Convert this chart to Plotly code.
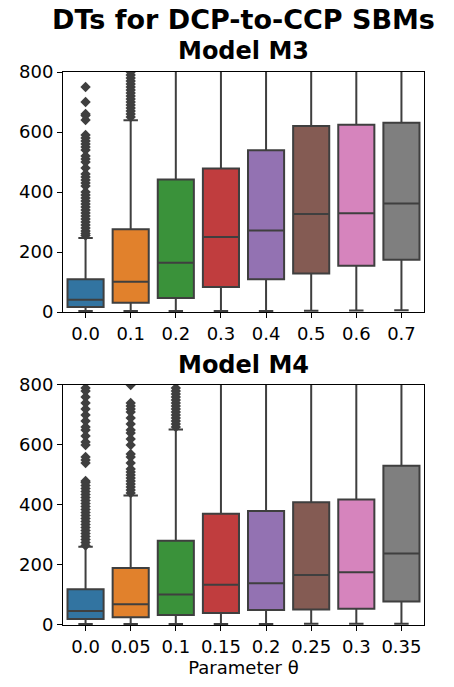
import plotly.graph_objects as go

# ---- data ----
m3_cats = ["0.0", "0.1", "0.2", "0.3", "0.4", "0.5", "0.6", "0.7"]
m3_q1 = [17, 31, 47, 83, 109, 128, 154, 174]
m3_med = [41, 101, 164, 250, 272, 327, 329, 362]
m3_q3 = [109, 276, 442, 478, 539, 620, 624, 631]
m3_lo = [3, 3, 3, 3, 3, 4, 5, 6]
m3_hi = [247, 639, 1100, 1150, 1200, 1300, 1300, 1350]
m3_out = {
    "0.0": [255, 262, 270, 280, 290, 300, 310, 320, 330, 340, 350, 360, 370, 380,
            390, 400, 420, 430, 440, 450, 460, 480, 500, 510, 520, 540, 550, 560,
            570, 580, 590, 640, 655, 660, 700, 750],
    "0.1": [650, 660, 670, 680, 690, 700, 710, 720, 730, 740, 750, 760, 770, 780,
            790, 800],
}

m4_cats = ["0.0", "0.05", "0.1", "0.15", "0.2", "0.25", "0.3", "0.35"]
m4_q1 = [20, 26, 33, 40, 50, 52, 54, 78]
m4_med = [47, 69, 102, 134, 139, 167, 176, 238]
m4_q3 = [119, 190, 281, 371, 380, 409, 418, 531]
m4_lo = [3, 3, 3, 3, 3, 4, 4, 4]
m4_hi = [261, 432, 652, 1000, 1050, 1100, 1150, 1250]
m4_out = {
    "0.0": [265, 275, 285, 295, 305, 315, 325, 335, 345, 355, 365, 375, 385, 395,
            405, 415, 425, 435, 445, 455, 465, 475, 480, 540, 550, 560, 600, 610,
            630, 650, 660, 680, 700, 720, 740, 760, 780, 790],
    "0.05": [440, 450, 460, 470, 480, 490, 500, 510, 520, 540, 560, 570, 600, 620,
             640, 650, 670, 690, 710, 720, 730, 740, 800],
    "0.1": [660, 670, 680, 690, 700, 710, 720, 730, 740, 750, 760, 770, 780, 790],
}

colors = ["#3274a1", "#e1812c", "#3a923a", "#c03d3e", "#9372b2", "#845b53",
          "#d684bd", "#7f7f7f"]
LINE = "#3f3f3f"
FONT = "DejaVu Sans"

fig = go.Figure()

def add_panel(cats, q1, med, q3, lo, hi, outs, xa, ya):
    for i, c in enumerate(cats):
        fig.add_trace(go.Box(
            x=[c], q1=[q1[i]], median=[med[i]], q3=[q3[i]],
            lowerfence=[lo[i]], upperfence=[hi[i]],
            fillcolor=colors[i], line=dict(color=LINE, width=2),
            width=0.8, whiskerwidth=0.4, boxpoints=False,
            xaxis=xa, yaxis=ya, showlegend=False, hoverinfo="skip"))
    for c, vals in outs.items():
        fig.add_trace(go.Scatter(
            x=[c] * len(vals), y=vals, mode="markers",
            marker=dict(symbol="diamond", size=8, color=LINE),
            xaxis=xa, yaxis=ya, showlegend=False, hoverinfo="skip", cliponaxis=True))

add_panel(m3_cats, m3_q1, m3_med, m3_q3, m3_lo, m3_hi, m3_out, "x", "y")
add_panel(m4_cats, m4_q1, m4_med, m4_q3, m4_lo, m4_hi, m4_out, "x2", "y2")

axis_common = dict(showline=True, linecolor="black", linewidth=1, mirror=True,
                   ticks="outside", ticklen=5, tickcolor="black", showgrid=False,
                   zeroline=False, tickfont=dict(family=FONT, size=18, color="black"))

fig.update_layout(
    width=454, height=687,
    margin=dict(l=63, r=30, t=72, b=62),
    plot_bgcolor="white", paper_bgcolor="white",
    boxmode="overlay",
    font=dict(family=FONT, color="black"),
    xaxis=dict(domain=[0, 1], anchor="y", type="category",
               categoryorder="array", categoryarray=m3_cats,
               range=[-0.5, 7.5], **axis_common),
    yaxis=dict(domain=[0.566, 1], anchor="x", range=[0, 800],
               tickvals=[0, 200, 400, 600, 800], **axis_common),
    xaxis2=dict(domain=[0, 1], anchor="y2", type="category",
                categoryorder="array", categoryarray=m4_cats,
                range=[-0.5, 7.5],
                title=dict(text="Parameter θ", font=dict(family=FONT, size=18),
                           standoff=4),
                **axis_common),
    yaxis2=dict(domain=[0, 0.434], anchor="x2", range=[0, 800],
                tickvals=[0, 200, 400, 600, 800], **axis_common),
)

# convert title positions in pixels to paper coords
plot_h = 687 - 72 - 62
def py(pix):
    return (625 - pix) / plot_h

for txt, ypix, size in [("<b>DTs for DCP-to-CCP SBMs</b>", 19, 27),
                        ("<b>Model M3</b>", 51, 24),
                        ("<b>Model M4</b>", 365, 24)]:
    fig.add_annotation(text=txt, x=0.5, y=py(ypix), xref="paper", yref="paper",
                       showarrow=False, xanchor="center", yanchor="middle",
                       font=dict(family=FONT, size=size, color="black"))

fig.write_html("out.html")
